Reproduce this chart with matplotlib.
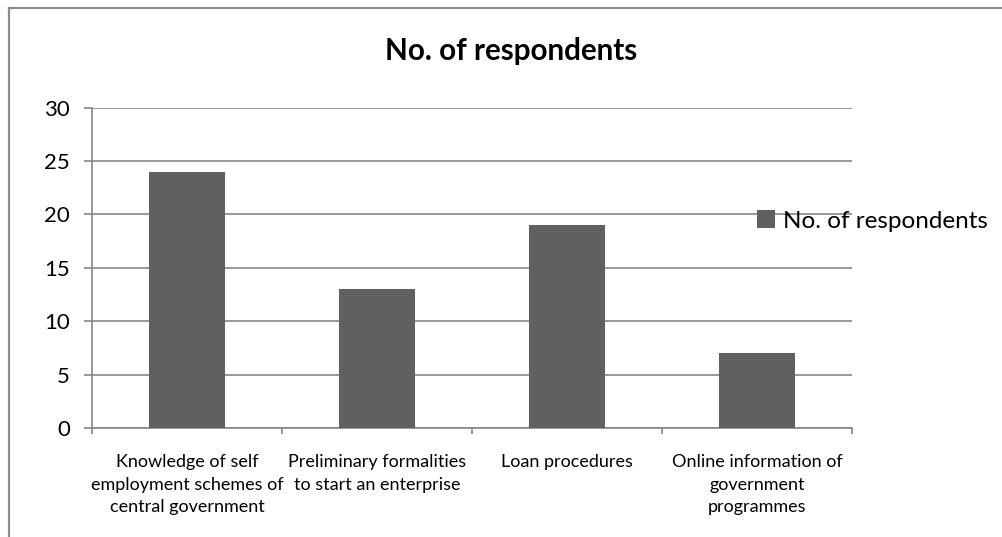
import matplotlib
matplotlib.use("Agg")
import matplotlib.pyplot as plt
from matplotlib.lines import Line2D
import numpy as np

categories = [
    "Knowledge of self\nemployment schemes of\ncentral government",
    "Preliminary formalities\nto start an enterprise",
    "Loan procedures",
    "Online information of\ngovernment\nprogrammes",
]
respondents = [24, 13, 19, 7]
series_name = "No. of respondents"
y_ticks = [0, 5, 10, 15, 20, 25, 30]

plt.rcParams["font.family"] = ["Lato", "DejaVu Sans"]

W, H = 1002, 537
fig = plt.figure(figsize=(W / 100, H / 100), dpi=100)
ax = fig.add_axes([92 / W, 1 - 428 / H, (852 - 92) / W, (428 - 107.5) / H])

grid_c = "#868686"
bar_c = "#606060"

x = np.arange(len(categories))
ax.bar(x, respondents, width=0.4, color=bar_c, label=series_name, zorder=3)

ax.set_xlim(-0.5, len(categories) - 0.5)
ax.set_ylim(0, 30)
ax.set_yticks(y_ticks)
ax.yaxis.grid(True, color=grid_c, linewidth=1.2)
ax.set_axisbelow(True)

for s in ("top", "right"):
    ax.spines[s].set_visible(False)
for s in ("left", "bottom"):
    ax.spines[s].set_color(grid_c)
    ax.spines[s].set_linewidth(1.2)

ax.tick_params(axis="y", direction="out", length=6, width=1.2, color=grid_c,
               labelsize=16, pad=10, labelcolor="black")
ax.set_xticks(x)
ax.set_xticklabels(categories, fontsize=13, linespacing=1.48)
ax.tick_params(axis="x", which="major", length=0, pad=19)
ax.set_xticks(np.arange(-0.5, len(categories)), minor=True)
ax.tick_params(axis="x", which="minor", direction="out", length=4, width=1.2,
               color=grid_c)
for lbl in ax.get_xticklabels():
    lbl.set_verticalalignment("top")

fig.text(511 / W, 1 - 51 / H, series_name, ha="center", va="center",
         fontsize=21.3, fontweight="bold")

fig.legend(loc="center left", bbox_to_anchor=(757 / W, 1 - 221 / H),
           frameon=False, fontsize=17.5, handlelength=0.75, handleheight=0.75,
           handletextpad=0.3, borderpad=0, borderaxespad=0)

# outer chart frame
fc = "#8c8c8c"
fig.add_artist(Line2D([9 / W, 9 / W], [0, 1 - 8 / H], color=fc, linewidth=1.6,
                      transform=fig.transFigure))
fig.add_artist(Line2D([9 / W, 1], [1 - 8 / H, 1 - 8 / H], color=fc,
                      linewidth=1.6, transform=fig.transFigure))

fig.savefig("out.png", dpi=100)
